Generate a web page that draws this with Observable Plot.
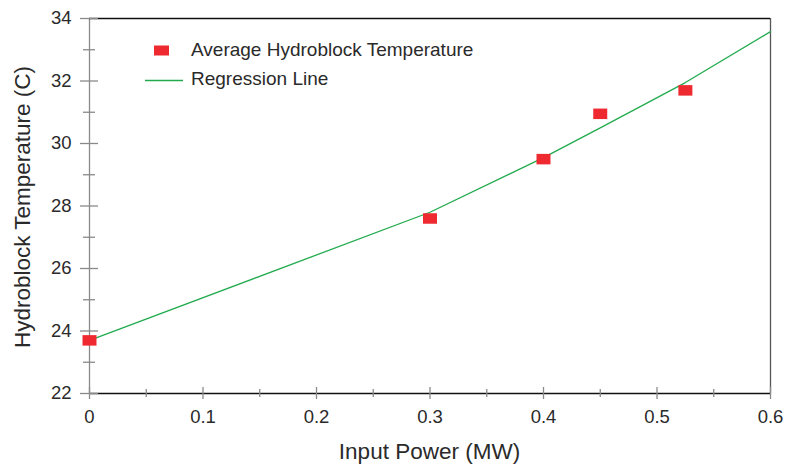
<!DOCTYPE html>
<html><head><meta charset="utf-8">
<script src="https://cdn.jsdelivr.net/npm/d3@7"></script>
<script src="https://cdn.jsdelivr.net/npm/@observablehq/plot@0.6"></script>
<style>
body{margin:0;background:#fff}
#wrap{position:relative;width:786px;height:464px;font-family:"Liberation Sans",Arial,sans-serif;color:#2a2a2a}
.t{position:absolute;white-space:nowrap;line-height:1}
</style>
</head><body><div id="wrap"></div>
<script>
// Data
const power = [0, 0.3, 0.4, 0.45, 0.525];
const temperature = [23.7, 27.6, 29.5, 30.95, 31.7];
const regPower = [0, 0.3, 0.4, 0.45, 0.525, 0.6];
const regTemperature = [23.7, 27.8, 29.55, 30.5, 31.95, 33.58];
const xMajor = [0, 0.1, 0.2, 0.3, 0.4, 0.5, 0.6];
const xMinor = [0.05, 0.15, 0.25, 0.35, 0.45, 0.55];
const yMajor = [22, 24, 26, 28, 30, 32, 34];
const yMinor = [23, 25, 27, 29, 31, 33];
const seriesNames = ["Average Hydroblock Temperature", "Regression Line"];
const xTitle = "Input Power (MW)";
const yTitle = "Hydroblock Temperature (C)";

const RED = "#ee2a30", GREEN = "#22ab4e", TICK = "#8a8a8a";
const points = power.map((p, i) => ({p, t: temperature[i]}));
const reg = regPower.map((p, i) => ({p, t: regTemperature[i]}));
const rectSymbol = {draw(ctx) { ctx.rect(-7, -5.25, 14, 10.5); }};
const blank = () => "";

const chart = Plot.plot({
  width: 786, height: 464,
  marginLeft: 89, marginRight: 16, marginTop: 18, marginBottom: 71,
  style: {fontSize: "18.5px", fontFamily: "'Liberation Sans', Arial, sans-serif", color: "#2a2a2a", background: "#fff"},
  x: {domain: [0, 0.6]},
  y: {domain: [22, 34]},
  marks: [
    Plot.ruleX([0], {stroke: TICK, strokeWidth: 1.3}),
    Plot.ruleX([0.6], {stroke: "#555", strokeWidth: 1.3}),
    Plot.ruleY([34], {stroke: "#111", strokeWidth: 1.3}),
    Plot.ruleY([22], {stroke: "#111", strokeWidth: 1.3}),
    Plot.axisY(yMajor, {tickSize: 9, tickPadding: 9, stroke: TICK, fill: "#2a2a2a", label: null, strokeWidth: 1.3}),
    Plot.axisY(yMajor, {tickSize: -9, tickFormat: blank, stroke: TICK, label: null, strokeWidth: 1.3}),
    Plot.axisY(yMinor, {tickSize: 6, tickFormat: blank, stroke: TICK, label: null, strokeWidth: 1.3}),
    Plot.axisY(yMinor, {tickSize: -6, tickFormat: blank, stroke: TICK, label: null, strokeWidth: 1.3}),
    Plot.axisX(xMajor, {tickSize: 6, tickPadding: 10, stroke: TICK, fill: "#2a2a2a", label: null, strokeWidth: 1.3, tickFormat: d => String(+d.toFixed(3))}),
    Plot.axisX(xMajor, {tickSize: -6, tickFormat: blank, stroke: TICK, label: null, strokeWidth: 1.3}),
    Plot.axisX(xMinor, {tickSize: 4, tickFormat: blank, stroke: TICK, label: null, strokeWidth: 1.3}),
    Plot.axisX(xMinor, {tickSize: -4, tickFormat: blank, stroke: TICK, label: null, strokeWidth: 1.3}),
    Plot.line(reg, {x: "p", y: "t", stroke: GREEN, strokeWidth: 1.3}),
    Plot.dot(points, {x: "p", y: "t", symbol: rectSymbol, fill: RED, stroke: "none"})
  ]
});
const wrap = document.getElementById("wrap");
wrap.appendChild(chart);

function addText(txt, css) {
  const s = document.createElement("span");
  s.className = "t"; s.textContent = txt; s.style.cssText = css;
  wrap.appendChild(s);
}
addText(xTitle, "left:429.5px;top:441px;font-size:22.5px;transform:translateX(-50%);");
addText(yTitle, "left:22.5px;top:207px;font-size:22.5px;transform:translate(-50%,-50%) rotate(-90deg);");
// legend
const leg = document.createElementNS("http://www.w3.org/2000/svg", "svg");
leg.setAttribute("width", 60); leg.setAttribute("height", 60);
leg.style.cssText = "position:absolute;left:140px;top:40px;";
leg.innerHTML = `<rect x="14" y="5.5" width="15" height="10" fill="${RED}"/>
<line x1="5" x2="43" y1="40.5" y2="40.5" stroke="${GREEN}" stroke-width="1.3"/>`;
wrap.appendChild(leg);
addText(seriesNames[0], "left:191px;top:40px;font-size:19px;");
addText(seriesNames[1], "left:191px;top:69px;font-size:19px;");
</script>
</body></html>
